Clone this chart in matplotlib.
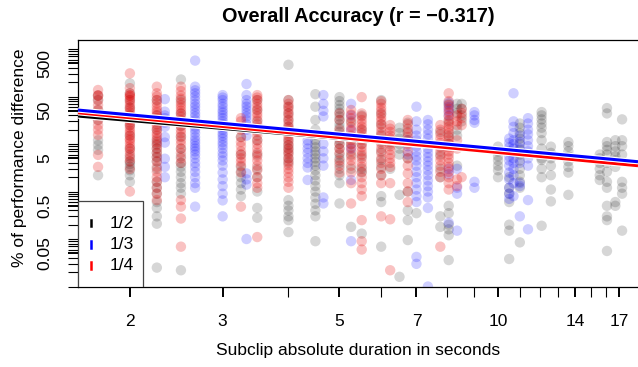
import numpy as np
import matplotlib
matplotlib.use('Agg')
import matplotlib.pyplot as plt
import matplotlib.patheffects as pe
from matplotlib.patches import Rectangle
from matplotlib.lines import Line2D

plt.rcParams['font.family'] = ['Liberation Sans', 'DejaVu Sans']

# ---------------- data ----------------
black_dur = [1.74, 2.0, 2.25, 2.5, 3.25, 3.49, 4.0, 4.5, 5.0, 5.26, 5.51, 6.0, 6.24, 6.5,
             6.74, 7.0, 7.77, 8.06, 8.36, 8.53, 10.0, 10.5, 11.0, 12.1, 12.6, 13.6,
             15.6, 16.1, 16.7, 17.2]
black_vals = [
    [105, 84, 52, 32, 12, 9.5, 7.5, 2.2],
    [189, 117, 84, 58, 40, 25, 15, 8, 5.5, 4.3, 3.8, 3.3, 2.8, 2.2, 1.6],
    [84, 40, 20, 12, 10, 8, 6.5, 5.3, 4.3, 3, 1.6, 1.2, 0.9, 0.6, 0.45, 0.3, 0.21, 0.025],
    [228, 84, 44, 24, 14, 8, 5.5, 4, 3.3, 2.6, 2.0, 1.5, 1.2, 0.9, 0.022],
    [14, 6, 3.3, 2.6, 2.0, 1.5, 1.1, 0.8],
    [84, 52, 30, 20, 12, 6, 3, 2.0, 1.0, 0.45, 0.28],
    [465, 84, 61, 44, 32, 23, 12, 9.5, 8, 6.5, 5, 4, 0.66, 0.5, 0.4, 0.3, 0.25, 0.14],
    [112, 61, 32, 20, 16, 12, 10, 8.5, 7, 6, 5, 4.2, 3.5, 2.8, 2.2, 1.7, 1.3, 1.0, 0.75,
     0.55, 0.4, 0.3, 0.09],
    [97, 80, 66, 55, 46, 38, 32, 26, 22, 18, 15, 12, 10, 8, 6, 5, 4, 3, 2.2, 1.5, 0.56],
    [30, 10, 6, 3, 0.18],
    [40, 20, 10, 5.5, 3, 2.5, 0.13],
    [84, 44, 26, 16, 11, 7, 4.6, 3.3, 2.2, 0.8, 0.6, 0.069],
    [10, 3],
    [22, 17, 13, 10, 8, 6, 0.85, 0.016],
    [28, 18, 12, 5, 1.0, 0.4, 0.25, 0.095],
    [0.35],
    [18, 6, 3, 2.0, 0.3, 0.18],
    [70, 30, 15, 10, 0.5, 0.35, 0.2, 0.16, 0.12, 0.036],
    [70, 55, 45, 20, 15, 3.5],
    [70, 55, 40, 30],
    [8.8, 7, 5.5, 4.5, 3.5, 2.8, 2.0],
    [2.0, 1.2, 0.9, 0.6, 0.2, 0.15, 0.038],
    [27, 22, 17, 13, 10, 7.5, 6, 4.5, 3, 2.2, 1.6, 1.2, 0.085],
    [47, 40, 33, 27, 22, 17, 12, 8, 5, 4.6, 3, 2, 0.19],
    [8.8, 6.5, 5, 3.5, 2.2, 1.1, 0.62],
    [11, 9, 7, 5.5, 4.3, 3.3, 2.5, 0.85],
    [6, 5, 4, 3, 2.2, 1.75],
    [57, 44, 11, 9, 7.5, 6, 4, 2.6, 1.6, 1.2, 0.5, 0.3, 0.25, 0.056],
    [12, 9, 7, 5.5, 4.5, 3.3, 0.6, 0.5],
    [33, 12, 9, 6, 1.6, 1.2, 0.9, 0.15],
]

blue_dur = [2.33, 2.66, 3.0, 3.33, 4.35, 4.66, 5.26, 6.74, 7.0, 7.36, 8.06, 8.36, 9.02,
            10.5, 10.7, 11.0, 11.4]
blue_vals = [
    [88, 48, 40, 35, 28, 23, 14, 10.7, 4.9, 3.3, 2.0],
    [570, 161, 135, 117, 100, 84, 70, 61, 52, 44, 38, 32, 27, 23, 20, 17, 14, 12, 10.5, 9,
     8, 7, 6, 5, 4, 3.3, 2.6, 2.0, 1.5, 1.2, 0.48],
    [107, 95, 84, 70, 61, 52, 46, 40, 35, 30, 26, 23, 20, 17, 15, 13, 11, 9.5, 8, 6.5, 5.5,
     4.5, 3.5, 2.5, 1.8, 1.3, 0.9, 0.65, 0.3],
    [183, 107, 84, 70, 61, 52, 44, 38, 32, 26, 20, 15, 2.4, 1.8, 1.4, 0.1],
    [12, 10, 8, 6.5, 5.0, 4.0, 3.2, 1.75],
    [107, 70, 50, 38, 10, 7, 5, 3.5, 0.75, 0.56],
    [70, 40, 20, 8, 1.75, 0.09],
    [12, 9, 6],
    [61, 30, 20, 15, 12, 9, 7, 5.5, 4.5, 3.5, 2.6, 2.0, 1.5, 1.1, 0.8, 0.6, 0.042, 0.03],
    [32, 26, 20, 16, 13, 10, 8, 6.5, 5.3, 4.3, 3.5, 2.8, 2.2, 1.7, 1.3, 1.0, 0.75, 0.45, 0.01],
    [75, 60, 50, 40, 3.0, 2.3, 0.22],
    [3.0, 1.2, 0.9, 0.15],
    [47, 40, 32, 28, 1.6, 1.2],
    [13, 10.5, 8.5, 7, 5.5, 4.5, 3.5, 2.5, 1.8, 1.2, 0.9, 0.7],
    [117, 30, 23, 17, 12, 10, 8, 6.5, 5, 4, 3, 2.2, 1.5, 0.8],
    [15, 11, 8, 4, 1.5, 1.3, 0.3],
    [35, 27, 20, 16, 12, 9, 7, 5, 3.5, 0.66, 0.16],
]

red_dur = [1.74, 2.0, 2.25, 2.5, 3.25, 3.49, 4.0, 5.0, 5.26, 5.51, 6.0, 6.24, 6.74, 7.77,
           8.06, 8.36, 8.53]
red_vals = [
    [137, 105, 105, 84, 66, 52, 42, 32, 25, 20, 15.5, 5.9, 3.3],
    [307, 150, 117, 105, 105, 95, 84, 75, 66, 58, 52, 46, 40, 36, 32, 28, 25, 22, 19, 17, 15, 13,
     12, 10.5, 9, 8, 7, 6, 5, 4.3, 3.0, 1.0],
    [161, 117, 100, 84, 72, 61, 52, 46, 40, 35, 30, 26, 23, 20, 17, 15, 13, 11, 9.5, 8, 6.5,
     5.3, 4.3, 3.3, 2.6, 2.0, 1.6, 1.2, 0.9, 0.66],
    [161, 130, 105, 90, 75, 66, 58, 50, 44, 38, 32, 28, 24, 20, 17, 14.5, 12, 10, 8, 6.5, 5,
     4, 0.66, 0.48, 0.27, 0.069],
    [35, 30, 20, 14, 11, 9, 7, 6, 5, 4.2, 3.5, 2.5, 0.48],
    [107, 95, 84, 70, 60, 52, 44, 38, 32, 26, 22, 18, 15, 12, 10, 8, 6.5, 5.5, 4.5, 3.5, 2.8,
     2.0, 1.5, 1.2, 0.11],
    [84, 70, 60, 52, 44, 38, 32, 27, 23, 20, 17, 15, 13, 11, 9.5, 8, 7, 6, 5, 4.3, 3.6, 3.0,
     2.5, 2.0, 1.6, 1.2],
    [44, 32, 20, 14, 10, 8, 6.5, 4.5, 3.5, 2.5],
    [52, 42, 35, 28, 23, 19, 15, 12, 10, 8.5, 7, 5.5, 4.5, 3.5, 2.5, 1.5, 0.56],
    [97, 44, 38, 32, 27, 23, 20, 17, 14, 12, 10, 8.5, 7, 6, 5, 4, 3.3, 2.6, 2.0, 1.5, 1.1,
     0.8, 0.25, 0.09, 0.06],
    [80, 70, 58, 50, 42, 36, 31, 26, 22, 18, 15, 12, 10, 8, 6.5, 5, 4, 3, 2.2, 1.5, 0.3],
    [25, 21, 18, 15, 13, 11, 9, 7.5, 6, 5, 4, 3.3, 1.5, 0.26, 0.022],
    [32, 26, 21, 17, 14, 10, 7, 5, 3.5, 2.4, 1.5, 1.0, 0.6],
    [25, 20, 16, 13, 10.5, 8.5, 7, 5.5, 4.5, 3.5, 2.6, 2.0, 0.069],
    [117, 80, 66, 55, 46, 38, 32, 27, 23, 20, 17, 14, 12, 10, 8.5, 7, 6, 5, 4, 3.3, 2.6,
     2.0, 1.5, 1.1],
    [40, 30, 25, 12, 8, 1.8, 1.3],
    [55, 45, 35, 25, 2.0],
]

# regression lines in log10 space: log10(y) = a + b*log10(x)
fit_black = (1.781, -0.949)
fit_blue = (1.922, -1.023)
fit_red = (1.870, -1.048)

legend_labels = ['1/2', '1/3', '1/4']
title = 'Overall Accuracy (r = \u22120.317)'
xlabel = 'Subclip absolute duration in seconds'
ylabel = '% of performance difference'
x_major = [2, 3, 5, 7, 10, 14, 17]
x_minor = [4, 6, 8, 9, 11, 12, 13, 15, 16]
y_major = [0.05, 0.5, 5, 50, 500]

# ---------------- figure ----------------
W, H = 638, 367
fig = plt.figure(figsize=(W / 100, H / 100), dpi=100)
L, R, T, B = 78, 638, 40, 287
ax = fig.add_axes([L / W, 1 - B / H, (R - L) / W, (B - T) / H])
ax.set_xscale('log')
ax.set_yscale('log')
ax.set_xlim(1.594, 18.44)
ax.set_ylim(0.00977, 1547)


def flat(durs, vals):
    xs, ys = [], []
    for d, v in zip(durs, vals):
        xs.extend([d] * len(v))
        ys.extend(v)
    return np.array(xs), np.array(ys)


ms = 56
for durs, vals, col in [(black_dur, black_vals, (0, 0, 0, 0.16)),
                        (blue_dur, blue_vals, (0, 0, 1, 0.19)),
                        (red_dur, red_vals, (0.9, 0, 0, 0.24))]:
    xs, ys = flat(durs, vals)
    ax.scatter(xs, ys, s=ms, color=col, edgecolors='none', zorder=2)

xx = np.array(ax.get_xlim())
halo = [pe.Stroke(linewidth=3.8, foreground='white'), pe.Normal()]
for (a, b), col in [(fit_black, 'black'), (fit_red, 'red'), (fit_blue, 'blue')]:
    ax.plot(xx, 10 ** (a + b * np.log10(xx)), color=col, lw=2.2, zorder=3,
            path_effects=halo, solid_capstyle='butt')

# ticks
ax.xaxis.set_major_locator(matplotlib.ticker.FixedLocator(x_major))
ax.xaxis.set_minor_locator(matplotlib.ticker.FixedLocator(x_minor))
ax.xaxis.set_major_formatter(matplotlib.ticker.FixedFormatter([str(v) for v in x_major]))
ax.xaxis.set_minor_formatter(matplotlib.ticker.NullFormatter())
y_minor = [m * 10.0 ** k for k in range(-2, 4) for m in range(1, 10)
           if 0.0098 < m * 10.0 ** k < 1500 and not any(abs(m * 10.0 ** k - v) < 1e-9 for v in y_major)]
ax.yaxis.set_major_locator(matplotlib.ticker.FixedLocator(y_major))
ax.yaxis.set_minor_locator(matplotlib.ticker.FixedLocator(y_minor))
ax.yaxis.set_major_formatter(matplotlib.ticker.FixedFormatter(['0.05', '0.5', '5', '50', '500']))
ax.yaxis.set_minor_formatter(matplotlib.ticker.NullFormatter())

ax.tick_params(axis='both', which='both', direction='out', length=7.2, color='black')
ax.tick_params(axis='both', which='major', width=1.4, labelsize=12.5)
ax.tick_params(axis='both', which='minor', width=0.8)
ax.tick_params(axis='x', which='major', pad=12)
ax.tick_params(axis='y', which='major', pad=11, labelrotation=90)
for lab in ax.get_yticklabels():
    lab.set_va('center')

for s in ['left', 'bottom', 'top']:
    ax.spines[s].set_color('black')
    ax.spines[s].set_linewidth(0.9)
ax.spines['right'].set_visible(False)

# texts
fig.text(358 / W, 1 - 17 / H, title, ha='center', va='center', fontsize=14.3, fontweight='bold')
fig.text(358 / W, 1 - 351 / H, xlabel, ha='center', va='center', fontsize=12.5)
fig.text(20 / W, 1 - 158 / H, ylabel, ha='center', va='center', fontsize=12.5, rotation=90)

# legend box
ax.add_patch(Rectangle((78 / W, 1 - 287 / H), (142.7 - 78) / W, (287 - 200.7) / H,
                       transform=fig.transFigure, facecolor='white', edgecolor='#444444',
                       lw=0.9, zorder=5))
for i, (lab, col) in enumerate(zip(legend_labels, ['black', 'blue', 'red'])):
    yy = 1 - (223 + 21.3 * i) / H
    ax.add_line(Line2D([90.5 / W, 90.5 / W], [yy - 3.3 / H, yy + 3.3 / H], transform=fig.transFigure,
                       color=col, lw=1.8, zorder=6))
    ax.text(110 / W, yy, lab, transform=fig.transFigure, ha='left', va='center',
            fontsize=12.5, zorder=6)

fig.savefig('out.png', dpi=100)
